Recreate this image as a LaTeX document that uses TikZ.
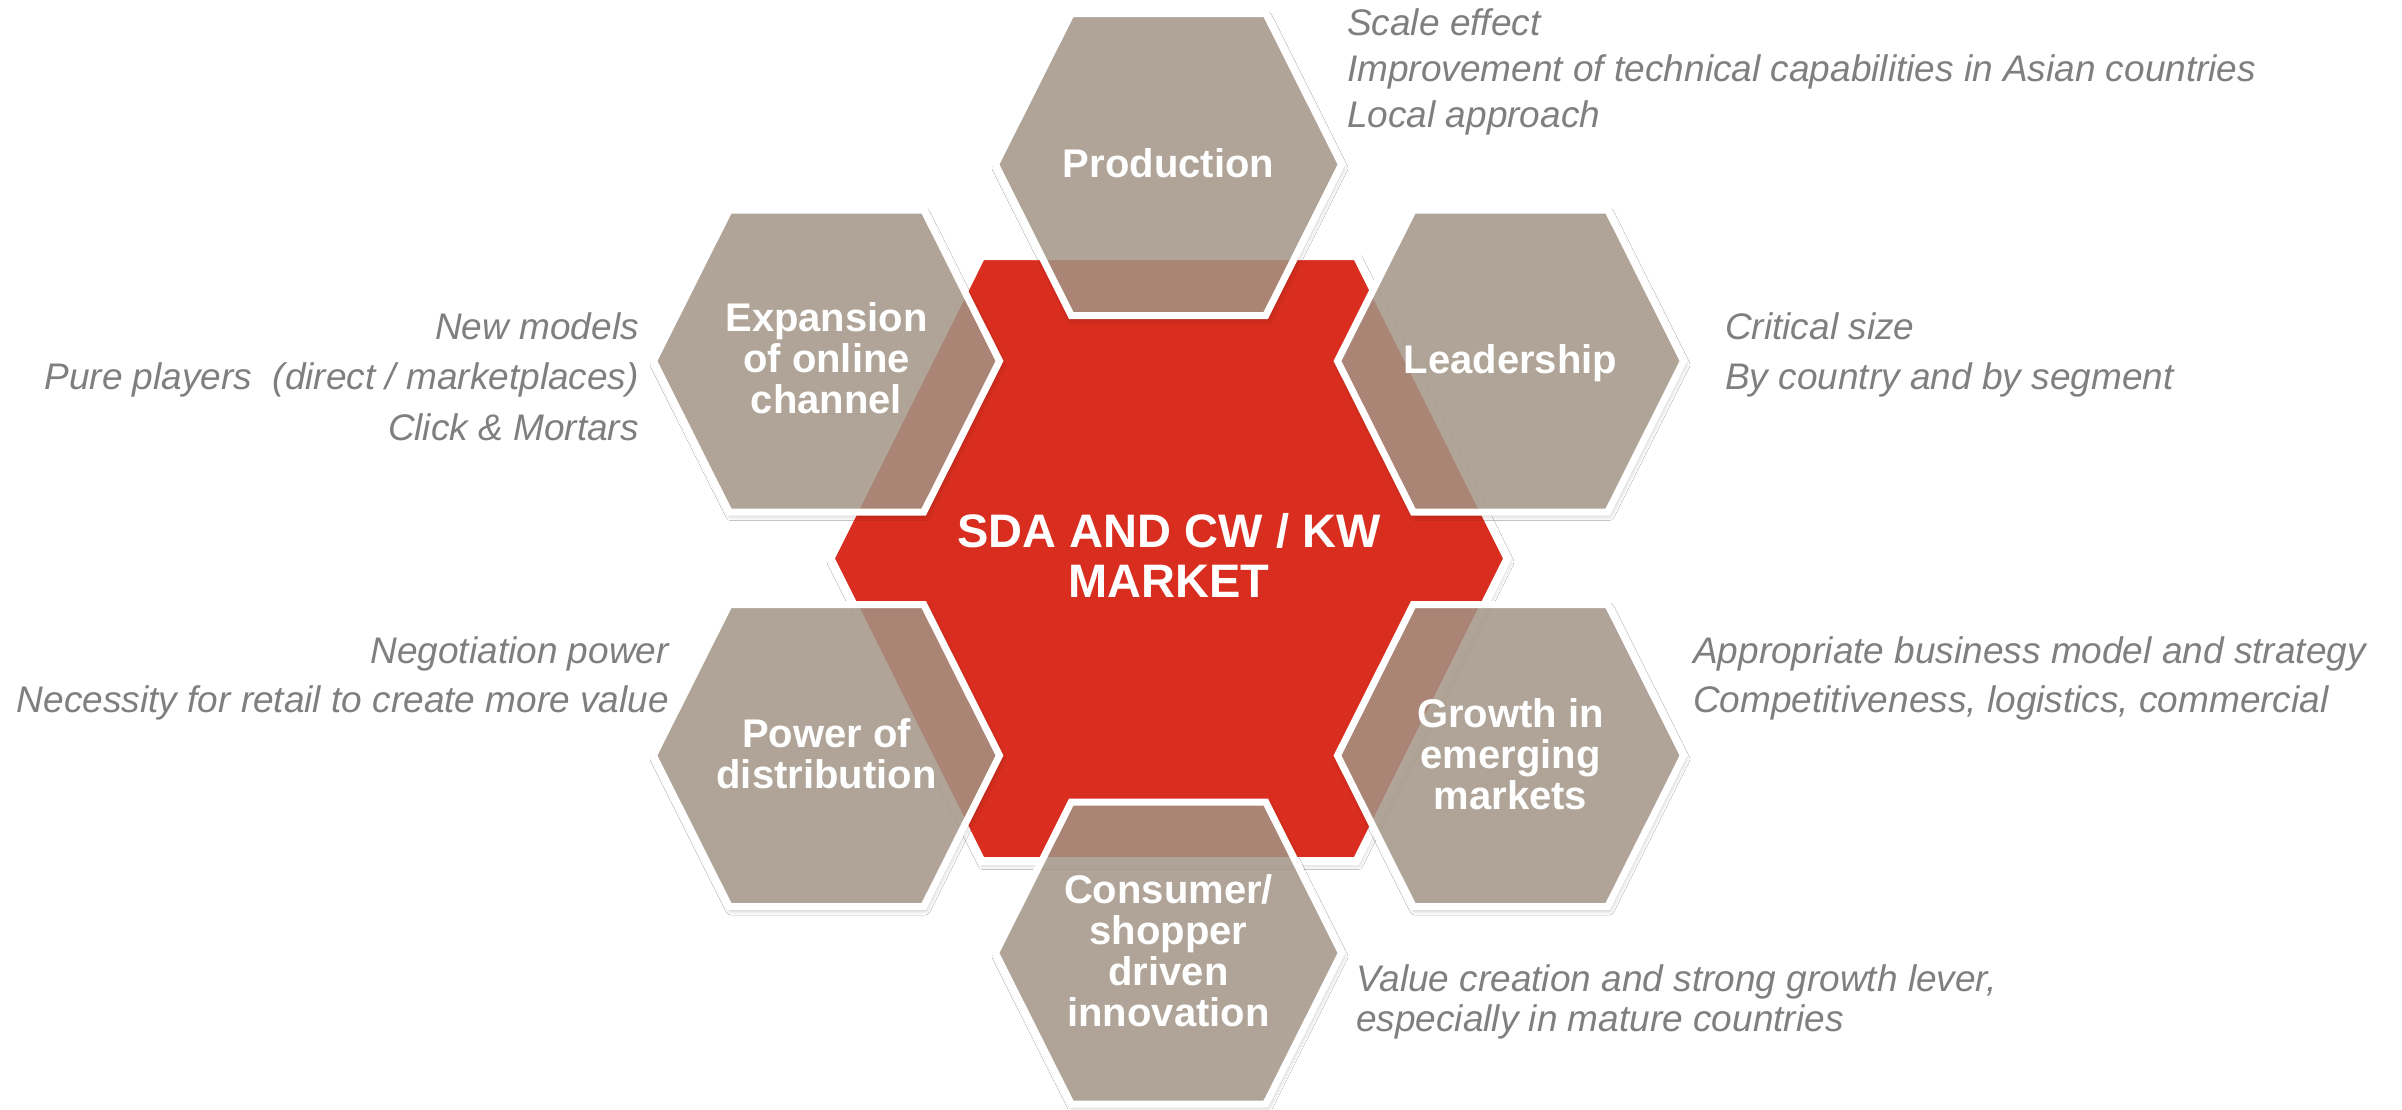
\documentclass[tikz,border=0pt]{standalone}
\usepackage{fontspec}
\setmainfont{Liberation Sans}
\usetikzlibrary{shadows.blur}

\definecolor{hexred}{RGB}{217,46,31}
\definecolor{hexgray}{RGB}{162,149,133}
\definecolor{notegray}{RGB}{127,127,127}

% flat-topped hexagon: centre (#1,#2), half width #3, half top edge #4, half height #5
\newcommand\hexagonat[5]{({#1+#3},#2) -- ({#1+#4},{#2-#5}) -- ({#1-#4},{#2-#5})
  -- ({#1-#3},#2) -- ({#1-#4},{#2+#5}) -- ({#1+#4},{#2+#5}) -- cycle}
\newcommand\smallhex[2]{\hexagonat{#1}{#2}{173}{97.25}{151}}

% translucent driver hexagon whose shadow stays outside its own outline
\newcommand\drivershape[2]{%
  \begin{scope}[even odd rule]
    \clip (-20,-20) rectangle (2422,1129) \smallhex{#1}{#2};
    \path[hexshadow] \smallhex{#1}{#2};
  \end{scope}
  \path[grayhex] \smallhex{#1}{#2};}

\newcommand\linesL[1]{\begin{tabular}[t]{@{}l@{}}#1\end{tabular}}
\newcommand\linesR[1]{\begin{tabular}[t]{@{}r@{}}#1\end{tabular}}
\newcommand\linesC[1]{\begin{tabular}[t]{@{}c@{}}#1\end{tabular}}

\tikzset{
  hexshadow/.style={blur shadow={shadow xshift=1.5pt, shadow yshift=-3.5pt,
      shadow blur radius=5pt, shadow opacity=30}},
  redhex/.style={fill=hexred, draw=white, line width=8pt, line join=miter, hexshadow},
  grayhex/.style={fill=hexgray, fill opacity=0.85, draw=white, draw opacity=1,
      line width=7pt, line join=miter},
  hexlabel/.style={text=white, inner sep=0pt, anchor=base,
      font=\fontsize{40}{41}\selectfont\bfseries},
  centerlabel/.style={text=white, inner sep=0pt, anchor=base,
      font=\fontsize{47}{50}\selectfont\bfseries},
  noteL/.style={text=notegray, inner sep=0pt, anchor=base west,
      font=\fontsize{37}{#1}\selectfont\itshape},
  noteR/.style={text=notegray, inner sep=0pt, anchor=base east,
      font=\fontsize{37}{#1}\selectfont\itshape},
}

\begin{document}
\begin{tikzpicture}[x=1pt, y=-1pt]
  \useasboundingbox[fill=white] (0,0) rectangle (2402,1109);

  % central market hexagon
  \path[redhex] \hexagonat{1169}{558.5}{338.5}{187.5}{302.5};

  % surrounding drivers
  \drivershape{1168.5}{164.5}
  \drivershape{826.5}{361}
  \drivershape{1510.5}{361}
  \drivershape{826.5}{755.5}
  \drivershape{1510.5}{755.5}
  \drivershape{1168.5}{953}

  % labels inside the hexagons
  \node[centerlabel] (market) at (1169,547) {\linesC{SDA AND CW / KW\\MARKET}};
  \node[hexlabel] (production) at (1168.5,177) {Production};
  \node[hexlabel] (online) at (826.5,331) {\linesC{Expansion\\of online\\channel}};
  \node[hexlabel] (leadership) at (1510.5,373.5) {Leadership};
  \node[hexlabel] (distribution) at (826.5,747) {\linesC{Power of\\distribution}};
  \node[hexlabel] (growth) at (1510.5,727) {\linesC{Growth in\\emerging\\markets}};
  \node[hexlabel] (innovation) at (1168.5,903) {\linesC{Consumer/\\shopper\\driven\\innovation}};

  % comments beside each driver
  \node[noteL=46] (prodnote) at (1347,35)
    {\linesL{Scale effect\\Improvement of technical capabilities in Asian countries\\Local approach}};
  \node[noteR=50.5] (onlinenote) at (639,339)
    {\linesR{New models\\Pure players \ (direct / marketplaces)\\Click \& Mortars}};
  \node[noteL=50] (leadnote) at (1725,339)
    {\linesL{Critical size\\By country and by segment}};
  \node[noteR=49] (distnote) at (669,663)
    {\linesR{Negotiation power\\Necessity for retail to create more value}};
  \node[noteL=49] (growthnote) at (1693,663)
    {\linesL{Appropriate business model and strategy\\Competitiveness, logistics, commercial}};
  \node[noteL=40] (innovnote) at (1356,991)
    {\linesL{Value creation and strong growth lever,\\especially in mature countries}};
\end{tikzpicture}
\end{document}
